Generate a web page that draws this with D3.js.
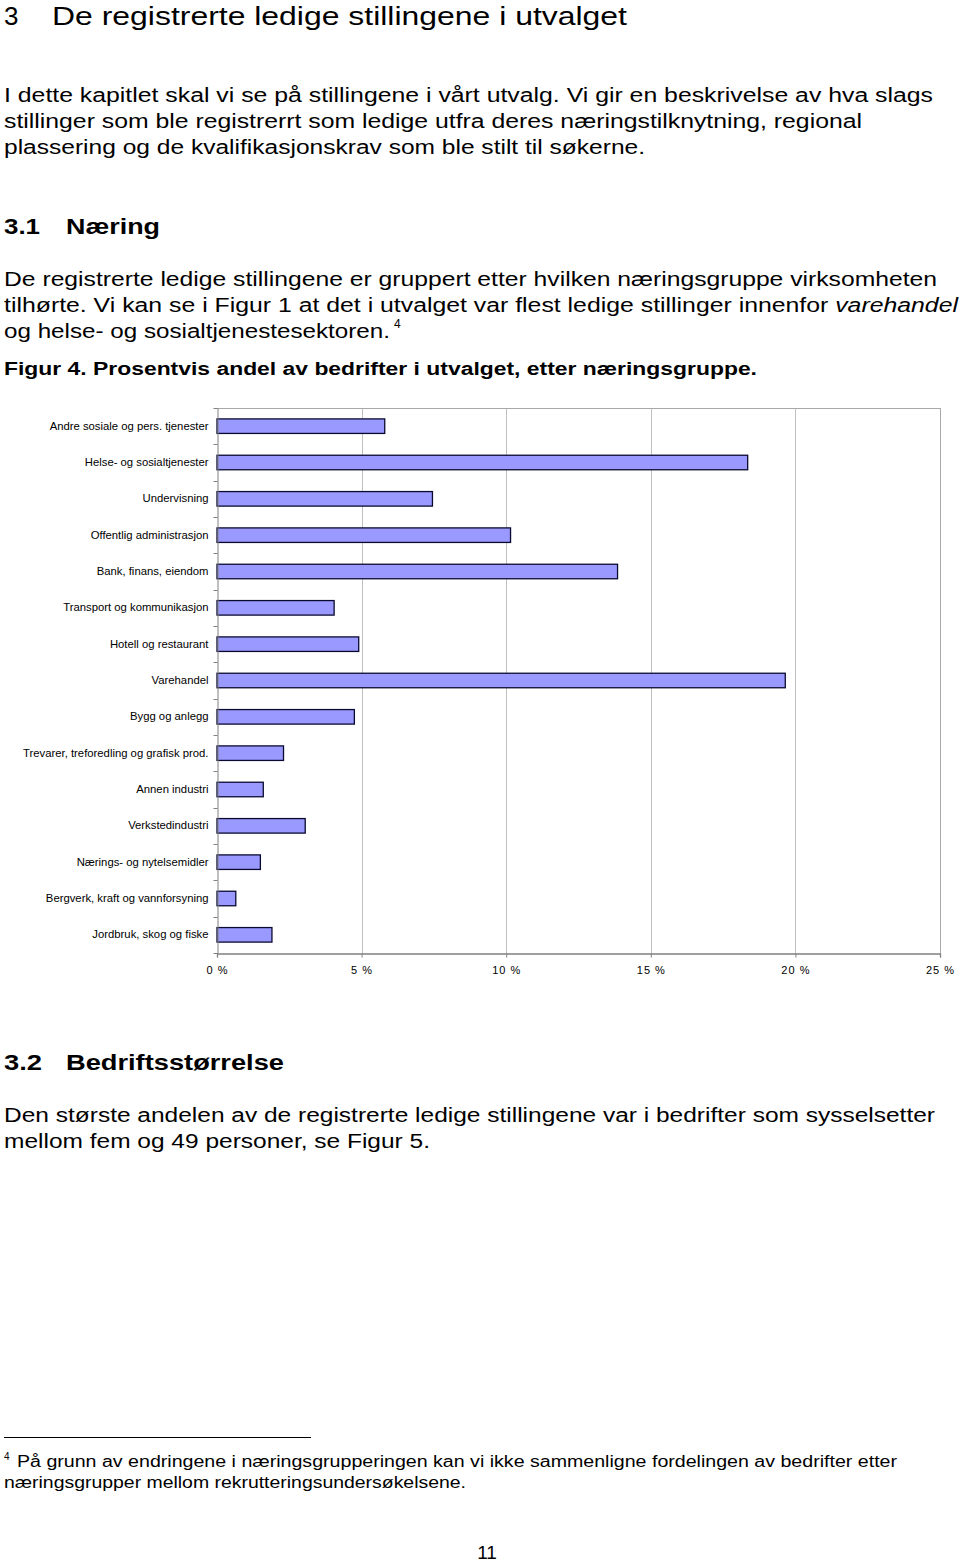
<!DOCTYPE html>
<html><head><meta charset="utf-8">
<script src="https://cdn.jsdelivr.net/npm/d3@7"></script>
<style>
html,body{margin:0;padding:0;background:#fff;}
svg{display:block;}
</style></head>
<body>
<script>
const categories = [
  "Andre sosiale og pers. tjenester",
  "Helse- og sosialtjenester",
  "Undervisning",
  "Offentlig administrasjon",
  "Bank, finans, eiendom",
  "Transport og kommunikasjon",
  "Hotell og restaurant",
  "Varehandel",
  "Bygg og anlegg",
  "Trevarer, treforedling og grafisk prod.",
  "Annen industri",
  "Verkstedindustri",
  "Nærings- og nytelsemidler",
  "Bergverk, kraft og vannforsyning",
  "Jordbruk, skog og fiske"
];
const values = [5.8, 18.35, 7.45, 10.15, 13.85, 4.05, 4.9, 19.65, 4.75, 2.3, 1.6, 3.05, 1.5, 0.65, 1.9];
const tickValues = [0, 5, 10, 15, 20, 25];
const tickLabels = ["0 %", "5 %", "10 %", "15 %", "20 %", "25 %"];

const W = 960, H = 1563;
const svg = d3.select("body").append("svg").attr("width", W).attr("height", H);

// ---------- page text ----------
const bodyFont = "Liberation Sans, Arial, sans-serif";
function line(txt, x, y, size, opts = {}) {
  const t = svg.append("text").attr("x", x).attr("y", y)
    .attr("font-family", bodyFont).attr("font-size", size)
    .attr("fill", "#000")
    .attr("font-weight", opts.bold ? "bold" : "normal");
  if (opts.len) t.attr("textLength", opts.len).attr("lengthAdjust", "spacingAndGlyphs");
  if (opts.anchor) t.attr("text-anchor", opts.anchor);
  t.text(txt);
  return t;
}
// Chapter heading
line("3", 4, 25, 26);
line("De registrerte ledige stillingene i utvalget", 52, 25, 26, {len: 575});
// Paragraph
line("I dette kapitlet skal vi se på stillingene i vårt utvalg. Vi gir en beskrivelse av hva slags", 4, 102, 20, {len: 929});
line("stillinger som ble registrerrt som ledige utfra deres næringstilknytning, regional", 4, 128, 20, {len: 858});
line("plassering og de kvalifikasjonskrav som ble stilt til søkerne.", 4, 154, 20, {len: 641});
// 3.1
line("3.1", 4, 234, 22, {bold: true, len: 36});
line("Næring", 66, 234, 22, {bold: true, len: 94});
line("De registrerte ledige stillingene er gruppert etter hvilken næringsgruppe virksomheten", 4, 286, 20, {len: 933});
{
  const t = svg.append("text").attr("x", 4).attr("y", 312)
    .attr("font-family", bodyFont).attr("font-size", 20)
    .attr("textLength", 954).attr("lengthAdjust", "spacingAndGlyphs");
  t.append("tspan").text("tilhørte. Vi kan se i Figur 1 at det i utvalget var flest ledige stillinger innenfor ");
  t.append("tspan").attr("font-style", "italic").text("varehandel");
}
line("og helse- og sosialtjenestesektoren.", 4, 338, 20, {len: 386});
line("4", 394, 328, 12);
line("Figur 4. Prosentvis andel av bedrifter i utvalget, etter næringsgruppe.", 4, 375, 18, {bold: true, len: 753});
// 3.2
line("3.2", 4, 1070, 22, {bold: true, len: 38});
line("Bedriftsstørrelse", 66, 1070, 22, {bold: true, len: 218});
line("Den største andelen av de registrerte ledige stillingene var i bedrifter som sysselsetter", 4, 1122, 20, {len: 931});
line("mellom fem og 49 personer, se Figur 5.", 4, 1148, 20, {len: 426});
// footnote
svg.append("line").attr("x1", 4).attr("x2", 311).attr("y1", 1437.5).attr("y2", 1437.5)
  .attr("stroke", "#000").attr("stroke-width", 1);
line("4", 4, 1460, 10);
line("På grunn av endringene i næringsgrupperingen kan vi ikke sammenligne fordelingen av bedrifter etter", 17, 1467, 16, {len: 880});
line("næringsgrupper mellom rekrutteringsundersøkelsene.", 4, 1488, 16, {len: 462});
line("11", 487, 1559, 19, {anchor: "middle"});

// ---------- chart ----------
const L = 217, R = 940, T = 408, B = 953;
const x = d3.scaleLinear().domain([0, 25]).range([L, R]);
const y = d3.scaleBand().domain(categories).range([T, B]).paddingInner(0.6).paddingOuter(0.3);
const yb = d3.scaleBand().domain(categories).range([T, B]); // for ticks between categories

const g = svg.append("g");
// gridlines
g.selectAll("line.grid").data(tickValues.slice(1)).join("line")
  .attr("class", "grid")
  .attr("x1", d => Math.round(x(d)) + 0.5).attr("x2", d => Math.round(x(d)) + 0.5)
  .attr("y1", T).attr("y2", B)
  .attr("stroke", "#c0c0c0").attr("stroke-width", 1);
// top & right border
g.append("line").attr("x1", L).attr("x2", R + 0.5).attr("y1", T + 0.5).attr("y2", T + 0.5)
  .attr("stroke", "#a8a8a8").attr("stroke-width", 1);
g.append("line").attr("x1", R + 0.5).attr("x2", R + 0.5).attr("y1", T).attr("y2", B)
  .attr("stroke", "#a8a8a8").attr("stroke-width", 1);

// bars
g.selectAll("rect.bar").data(categories).join("rect")
  .attr("class", "bar")
  .attr("x", x(0))
  .attr("y", d => y(d))
  .attr("width", (d, i) => x(values[i]) - x(0))
  .attr("height", y.bandwidth())
  .attr("fill", "#9999ff")
  .attr("stroke", "#0a0a30").attr("stroke-width", 1.3);

// y axis
const yAxis = d3.axisLeft(yb).tickSize(0).tickPadding(9);
const yg = svg.append("g").attr("transform", `translate(${L + 0.5},0)`).call(yAxis);
yg.select(".domain").attr("stroke", "#808080");
yg.selectAll("text").attr("font-family", "Liberation Sans, Arial, sans-serif")
  .attr("font-size", 11.3).attr("fill", "#000");
// category boundary ticks
yg.selectAll("line.bt").data(d3.range(categories.length + 1)).join("line")
  .attr("class", "bt")
  .attr("x1", -4).attr("x2", 0)
  .attr("y1", i => Math.round(T + i * yb.step()) + 0.5)
  .attr("y2", i => Math.round(T + i * yb.step()) + 0.5)
  .attr("stroke", "#808080");

// x axis
const xAxis = d3.axisBottom(x).tickValues(tickValues)
  .tickFormat((d, i) => tickLabels[i]).tickSize(4).tickPadding(9);
const xg = svg.append("g").attr("transform", `translate(0,${B + 0.5})`).call(xAxis);
xg.select(".domain").attr("stroke", "#808080").attr("stroke-width", 1.3);
xg.selectAll(".tick line").attr("stroke", "#808080");
xg.selectAll("text").attr("font-family", "Liberation Sans, Arial, sans-serif")
  .attr("font-size", 11).attr("fill", "#000").attr("letter-spacing", 1);
</script>
</body></html>
